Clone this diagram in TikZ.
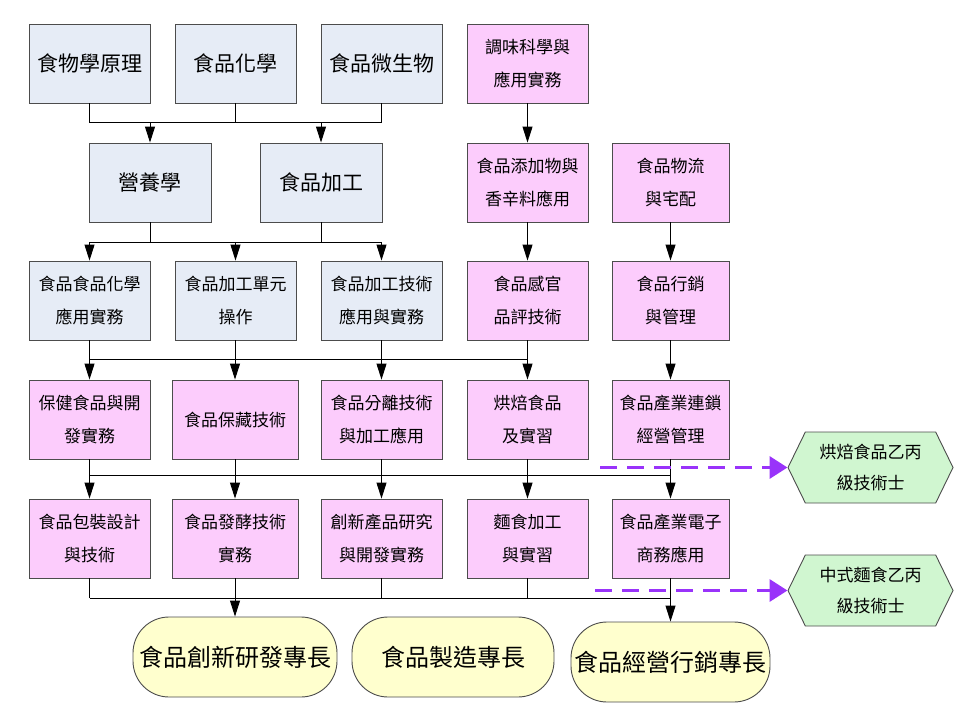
\documentclass[tikz,border=0pt]{standalone}
\usepackage{fontspec}
\setmainfont{Noto Sans CJK TC}
\usetikzlibrary{arrows.meta,shapes.symbols}

\definecolor{bluegray}{RGB}{230,236,246}
\definecolor{pinkbox}{RGB}{252,204,252}
\definecolor{greenhex}{RGB}{208,246,208}
\definecolor{yellowend}{RGB}{255,255,206}
\definecolor{purpledash}{RGB}{153,51,250}

\tikzset{
  basebox/.style={draw=black!70, line width=0.9pt, minimum width=121pt, minimum height=79pt,
    align=center, inner sep=2pt, font=\fontsize{17}{33}\selectfont},
  bluebox/.style={basebox, fill=bluegray},
  pinkbox/.style={basebox, fill=pinkbox},
  bigtext/.style={font=\fontsize{21}{30}\selectfont},
  goalbox/.style={draw=black!70, line width=0.9pt, fill=yellowend, rounded corners=36pt,
    minimum height=80pt, inner sep=2pt, font=\fontsize{24}{30}\selectfont},
  certbox/.style={draw=black!70, line width=0.9pt, fill=greenhex, signal, signal to=west and east,
    signal pointer angle=128, minimum width=165pt, minimum height=71pt, inner sep=1pt,
    align=center, font=\fontsize{17}{31}\selectfont},
  link/.style={line width=0.9pt, black},
  arr/.style={link, -{Triangle[length=16pt,width=10pt]}},
  dasharr/.style={line width=3.5pt, purpledash, dash pattern=on 17pt off 10pt,
    -{Triangle[length=18pt,width=22pt]}}
}

\begin{document}
\begin{tikzpicture}[x=1pt,y=-1pt]
  \useasboundingbox (0,0) rectangle (960,720);

  % row 1
  \node[bluebox,bigtext] (A1) at (89.5,63.5) {食物學原理};
  \node[bluebox,bigtext] (A2) at (235.5,63.5) {食品化學};
  \node[bluebox,bigtext] (A3) at (381.5,63.5) {食品微生物};
  \node[pinkbox] (A4) at (527.5,63.5) {調味科學與\\應用實務};

  % row 2
  \node[bluebox,bigtext,minimum width=122pt] (B1) at (150,182.5) {營養學};
  \node[bluebox,bigtext,minimum width=122pt] (B2) at (321,182.5) {食品加工};
  \node[pinkbox] (B4) at (527.5,182.5) {食品添加物與\\香辛料應用};
  \node[pinkbox,minimum width=117pt] (B5) at (670.5,182.5) {食品物流\\與宅配};

  % row 3
  \node[bluebox] (C1) at (89.5,300.5) {食品食品化學\\應用實務};
  \node[bluebox] (C2) at (235.5,300.5) {食品加工單元\\操作};
  \node[bluebox] (C3) at (381.5,300.5) {食品加工技術\\應用與實務};
  \node[pinkbox] (C4) at (527.5,300.5) {食品感官\\品評技術};
  \node[pinkbox,minimum width=117pt] (C5) at (670.5,300.5) {食品行銷\\與管理};

  % row 4
  \node[pinkbox] (D1) at (89.5,419.5) {保健食品與開\\發實務};
  \node[pinkbox,minimum width=126pt] (D2) at (235,419.5) {食品保藏技術};
  \node[pinkbox] (D3) at (381.5,419.5) {食品分離技術\\與加工應用};
  \node[pinkbox] (D4) at (527.5,419.5) {烘焙食品\\及實習};
  \node[pinkbox,minimum width=117pt] (D5) at (670.5,419.5) {食品產業連鎖\\經營管理};

  % row 5
  \node[pinkbox] (E1) at (89.5,538.5) {食品包裝設計\\與技術};
  \node[pinkbox,minimum width=126pt] (E2) at (235,538.5) {食品發酵技術\\實務};
  \node[pinkbox] (E3) at (381.5,538.5) {創新產品研究\\與開發實務};
  \node[pinkbox] (E4) at (527.5,538.5) {麵食加工\\與實習};
  \node[pinkbox,minimum width=117pt] (E5) at (670.5,538.5) {食品產業電子\\商務應用};

  % goals
  \node[goalbox,minimum width=204pt] (F1) at (235,657) {食品創新研發專長};
  \node[goalbox,minimum width=202pt] (F2) at (453,657) {食品製造專長};
  \node[goalbox,minimum width=199pt] (F3) at (670.5,662) {食品經營行銷專長};

  % certificates
  \node[certbox] (H1) at (870.5,467.5) {烘焙食品乙丙\\級技術士};
  \node[certbox] (H2) at (870.5,590.5) {中式麵食乙丙\\級技術士};

  % bus lines
  \coordinate (bus1) at (0,122);
  \coordinate (bus2) at (0,242);
  \coordinate (bus3) at (0,359);
  \coordinate (bus4) at (0,475);
  \coordinate (bus5) at (0,598);

  % row 1 -> row 2
  \draw[link] (A1.south) |- (A3.south |- bus1) -- (A3.south);
  \draw[link] (A2.south) -- (A2.south |- bus1);
  \draw[arr] (B1.north |- bus1) -- (B1.north);
  \draw[arr] (B2.north |- bus1) -- (B2.north);
  \draw[arr] (A4) -- (B4);

  % row 2 -> row 3
  \draw[link] (C1.north |- bus2) -- (C3.north |- bus2);
  \draw[link] (B1.south) -- (B1.south |- bus2);
  \draw[link] (B2.south) -- (B2.south |- bus2);
  \foreach \n in {C1,C2,C3}
    \draw[arr] (\n.north |- bus2) -- (\n.north);
  \draw[arr] (B4) -- (C4);
  \draw[arr] (B5) -- (C5);

  % row 3 -> row 4
  \draw[link] (C1.south |- bus3) -- (C4.south |- bus3);
  \foreach \a/\b in {C1/D1,C2/D2,C3/D3,C4/D4}{
    \draw[link] (\a.south) -- (\a.south |- bus3);
    \draw[arr] (\b.north |- bus3) -- (\b.north);
  }
  \draw[arr] (C5) -- (D5);

  % row 4 -> row 5
  \draw[link] (D1.south |- bus4) -- (D5.south |- bus4);
  \foreach \a/\b in {D1/E1,D2/E2,D3/E3,D4/E4,D5/E5}{
    \draw[link] (\a.south) -- (\a.south |- bus4);
    \draw[arr] (\b.north |- bus4) -- (\b.north);
  }

  % row 5 -> goals
  \draw[link] (E1.south |- bus5) -- (E5.south |- bus5);
  \foreach \n in {E1,E2,E3,E4,E5}
    \draw[link] (\n.south) -- (\n.south |- bus5);
  \draw[arr] (F1.north |- bus5) -- (F1.north);
  \draw[arr] (F3.north |- bus5) -- (F3.north);

  % certificates
  \coordinate (s1) at (600,467.5);
  \coordinate (s2) at (595,590.5);
  \draw[dasharr] (s1) -- (H1.west);
  \draw[dasharr] (s2) -- (H2.west);
\end{tikzpicture}
\end{document}
